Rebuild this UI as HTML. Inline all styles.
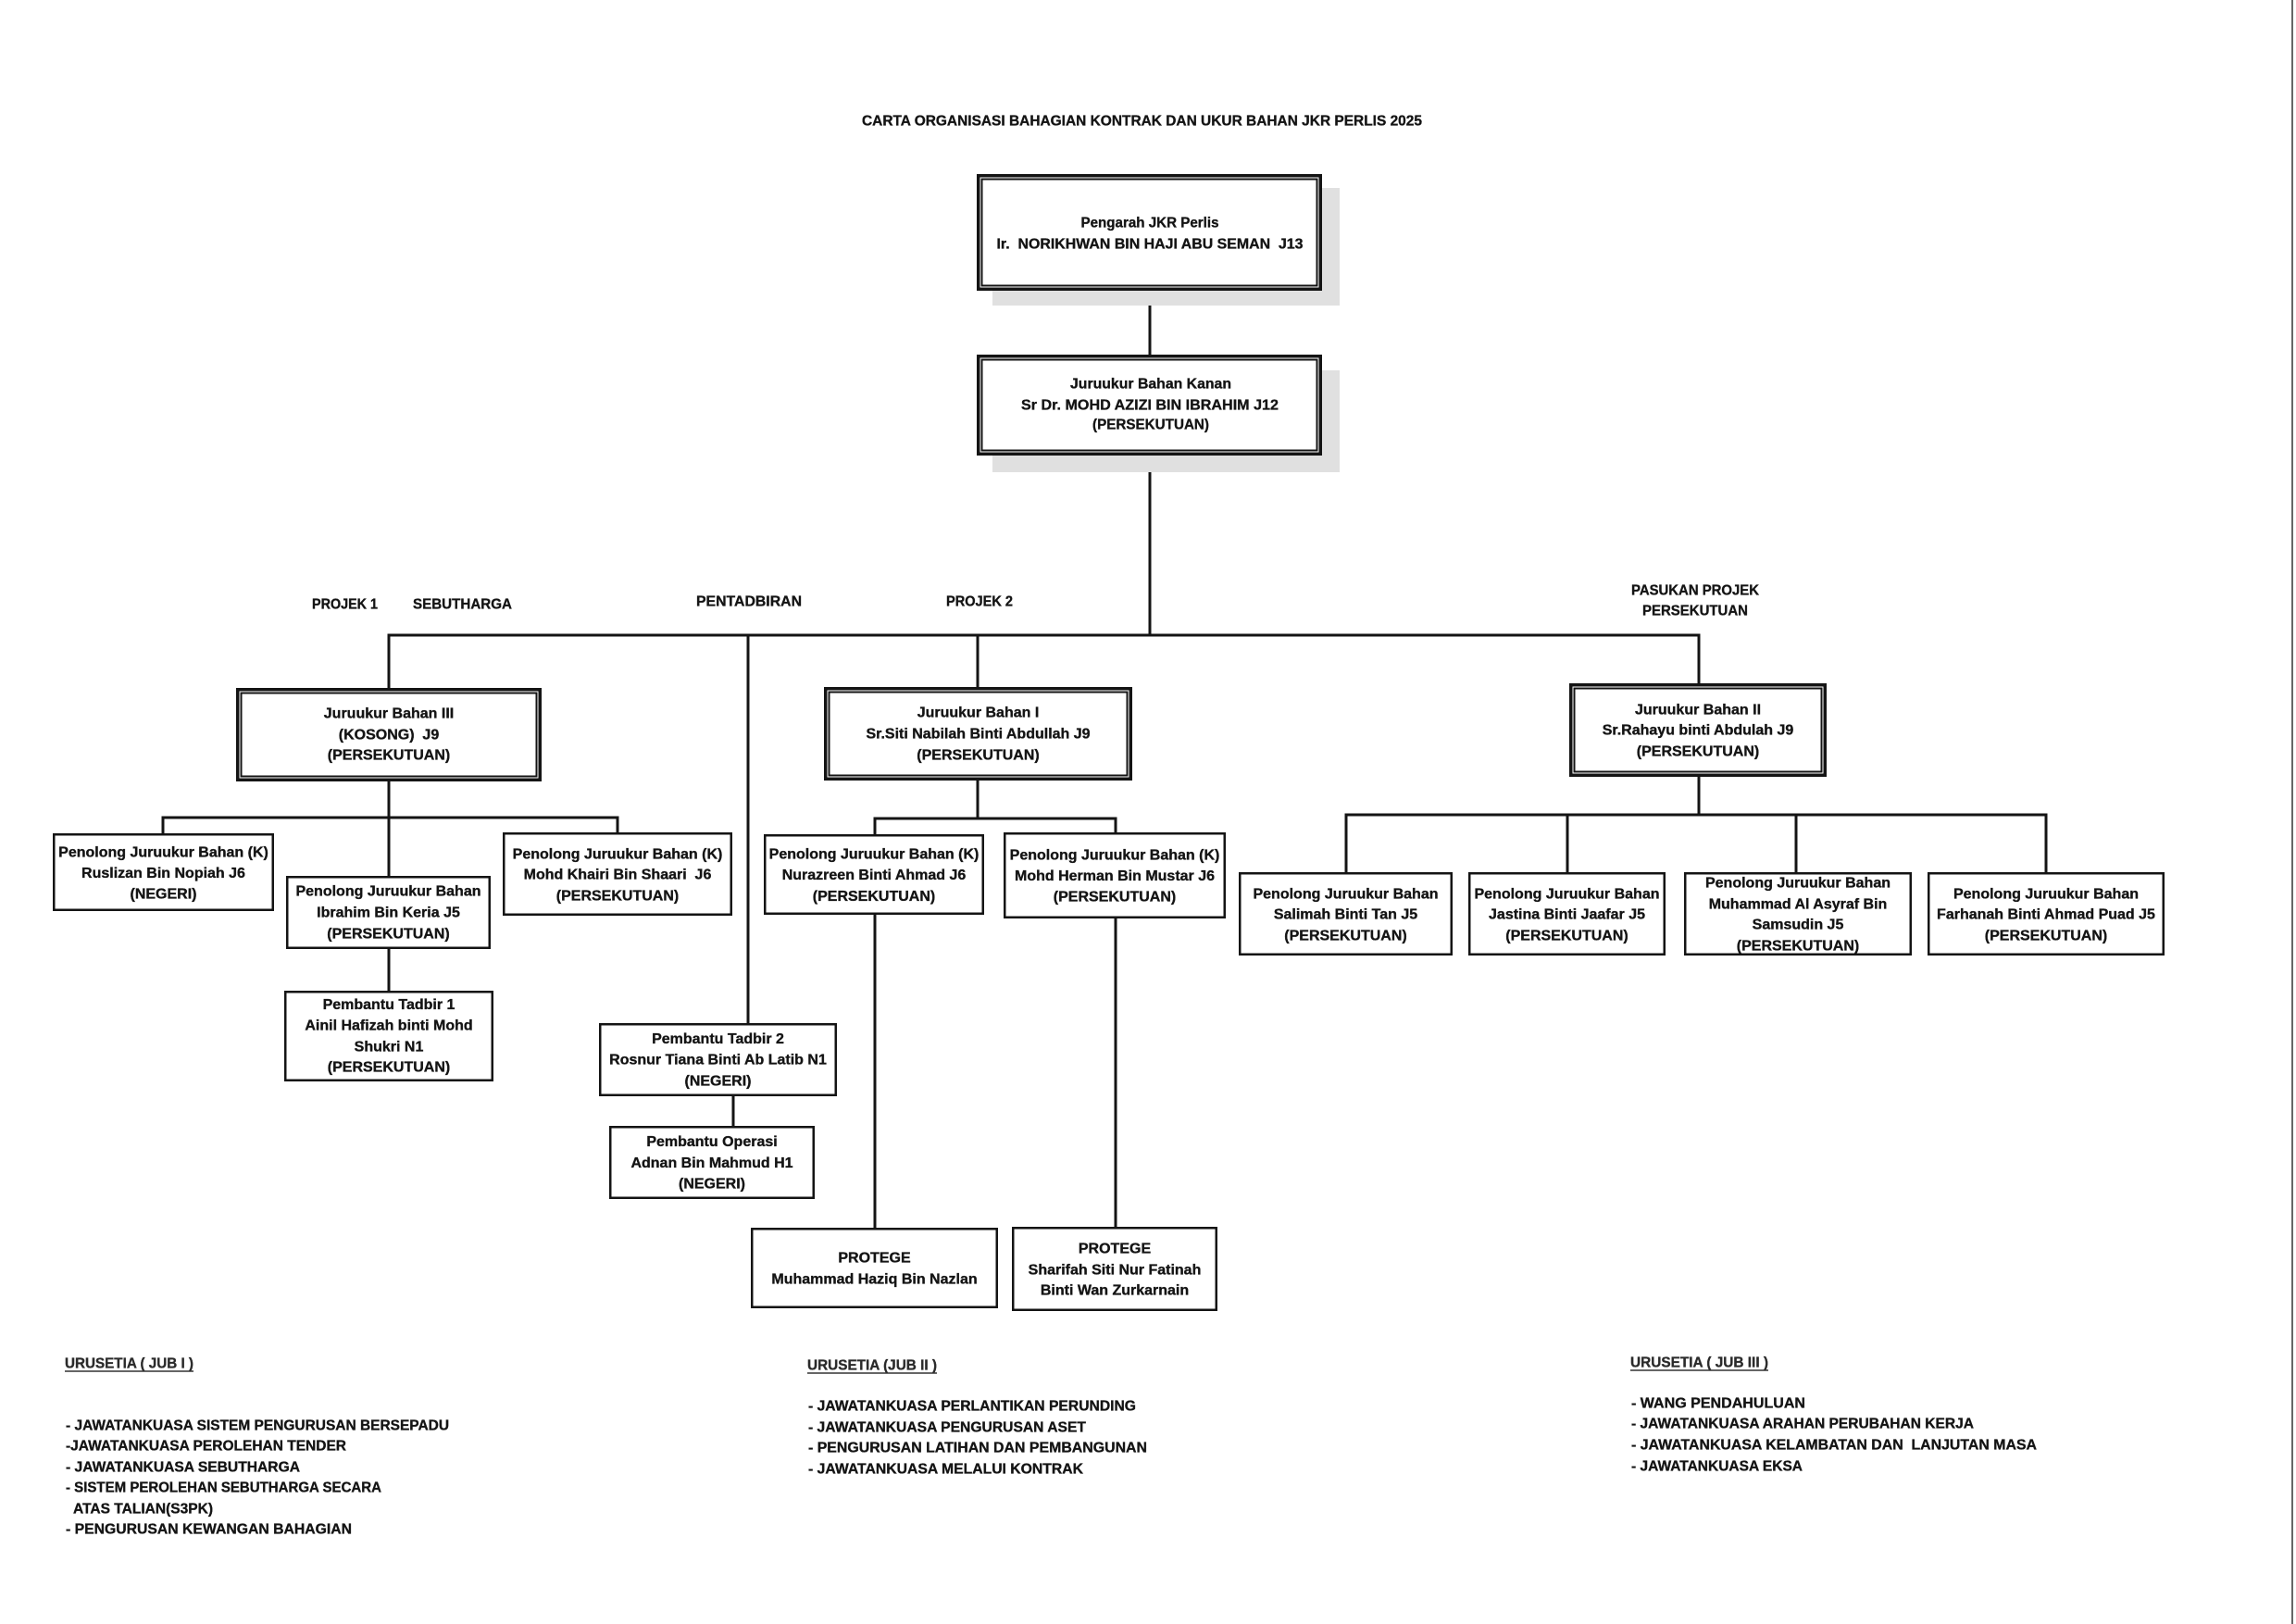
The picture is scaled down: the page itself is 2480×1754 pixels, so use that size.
<!DOCTYPE html>
<html>
<head>
<meta charset="utf-8">
<style>
  html,body{margin:0;padding:0;background:#fff;}
  svg{display:block;}
  text{font-family:"Liberation Sans",Arial,sans-serif;font-weight:bold;font-size:16px;fill:#141414;stroke:#141414;stroke-width:0.35px;white-space:pre;}
  .c{text-anchor:middle;}
  .l{text-anchor:start;}
  .hd{fill:#2a2a2a;stroke:#2a2a2a;}
</style>
</head>
<body>
<svg width="2480" height="1754" viewBox="0 0 2480 1754" xmlns="http://www.w3.org/2000/svg">
  <rect x="0" y="0" width="2480" height="1754" fill="#fff" stroke="none"/>
  <!-- right scan edge -->
  <line x1="2476" y1="0" x2="2476" y2="1754" stroke="#666" stroke-width="2"/>

  <!-- Title -->
  <text class="c" x="1233.5" y="135.5" font-size="15.5" textLength="605" lengthAdjust="spacingAndGlyphs">CARTA ORGANISASI BAHAGIAN KONTRAK DAN UKUR BAHAN JKR PERLIS 2025</text>

  <!-- connectors -->
  <g stroke="#141414" stroke-width="3" fill="none" stroke-linecap="square">
    <path d="M1242 314 V383"/>
    <path d="M1242 492 V686"/>
    <path d="M420 686 H1835"/>
    <path d="M420 686 V743"/>
    <path d="M808 686 V1105"/>
    <path d="M1056 686 V742"/>
    <path d="M1835 686 V738"/>
    <path d="M420 844 V946"/>
    <path d="M420 1025 V1070"/>
    <path d="M176 883 H667"/>
    <path d="M176 883 V900"/>
    <path d="M667 883 V899"/>
    <path d="M792 1184 V1216"/>
    <path d="M1056 843 V884"/>
    <path d="M945 884 H1205"/>
    <path d="M945 884 V901"/>
    <path d="M1205 884 V899"/>
    <path d="M945 988 V1326"/>
    <path d="M1205 992 V1325"/>
    <path d="M1835 839 V880"/>
    <path d="M1454 880 H2210"/>
    <path d="M1454 880 V942"/>
    <path d="M1693 880 V942"/>
    <path d="M1940 880 V942"/>
    <path d="M2210 880 V942"/>
  </g>

  <!-- Top box shadows -->
  <rect x="1072" y="203" width="375" height="127" fill="#e0e0e0"/>
  <rect x="1072" y="400" width="375" height="110" fill="#e0e0e0"/>

  <!-- Box A: Pengarah (double) -->
  <rect x="1056.75" y="189.75" width="369.5" height="122.5" fill="#fff" stroke="#141414" stroke-width="3.5"/>
  <rect x="1060.5" y="193.5" width="362" height="115" fill="none" stroke="#141414" stroke-width="2"/>
  <text class="c" x="1242" y="245.5" textLength="149" lengthAdjust="spacingAndGlyphs">Pengarah JKR Perlis</text>
  <text class="c" x="1242" y="268.5" textLength="331" lengthAdjust="spacingAndGlyphs">Ir.  NORIKHWAN BIN HAJI ABU SEMAN  J13</text>

  <!-- Box B: Juruukur Bahan Kanan (double) -->
  <rect x="1056.75" y="384.75" width="369.5" height="105.5" fill="#fff" stroke="#141414" stroke-width="3.5"/>
  <rect x="1060.5" y="388.5" width="362" height="98" fill="none" stroke="#141414" stroke-width="2"/>
  <text class="c" x="1243" y="419.5" textLength="174" lengthAdjust="spacingAndGlyphs">Juruukur Bahan Kanan</text>
  <text class="c" x="1242" y="442.5" textLength="278" lengthAdjust="spacingAndGlyphs">Sr Dr. MOHD AZIZI BIN IBRAHIM J12</text>
  <text class="c" x="1243" y="463.5" textLength="126" lengthAdjust="spacingAndGlyphs">(PERSEKUTUAN)</text>

  <!-- Section labels -->
  <text class="c" x="372.5" y="657.5" textLength="71" lengthAdjust="spacingAndGlyphs">PROJEK 1</text>
  <text class="c" x="499.5" y="657.5" textLength="107" lengthAdjust="spacingAndGlyphs">SEBUTHARGA</text>
  <text class="c" x="809" y="654.5" textLength="114" lengthAdjust="spacingAndGlyphs">PENTADBIRAN</text>
  <text class="c" x="1058" y="654.5" textLength="72" lengthAdjust="spacingAndGlyphs">PROJEK 2</text>
  <text class="c" x="1831" y="642.5" textLength="138" lengthAdjust="spacingAndGlyphs">PASUKAN PROJEK</text>
  <text class="c" x="1831" y="664.5" textLength="114" lengthAdjust="spacingAndGlyphs">PERSEKUTUAN</text>

  <!-- JB III (double) -->
  <rect x="256.75" y="744.75" width="326.5" height="97.5" fill="#fff" stroke="#141414" stroke-width="3.5"/>
  <rect x="260.5" y="748.5" width="319" height="90" fill="none" stroke="#141414" stroke-width="2"/>
  <text class="c" x="420" y="775.5">Juruukur Bahan III</text>
  <text class="c" x="420" y="798.5">(KOSONG)  J9</text>
  <text class="c" x="420" y="820.5">(PERSEKUTUAN)</text>

  <!-- Ruslizan -->
  <rect x="58.25" y="901.25" width="236.5" height="81.5" fill="#fff" stroke="#141414" stroke-width="2.5"/>
  <text class="c" x="176.5" y="925.5">Penolong Juruukur Bahan (K)</text>
  <text class="c" x="176.5" y="948">Ruslizan Bin Nopiah J6</text>
  <text class="c" x="176.5" y="970.5">(NEGERI)</text>

  <!-- Ibrahim -->
  <rect x="310.25" y="947.25" width="218.5" height="76.5" fill="#fff" stroke="#141414" stroke-width="2.5"/>
  <text class="c" x="419.5" y="967.5">Penolong Juruukur Bahan</text>
  <text class="c" x="419.5" y="990.5">Ibrahim Bin Keria J5</text>
  <text class="c" x="419.5" y="1013.5">(PERSEKUTUAN)</text>

  <!-- Khairi -->
  <rect x="544.25" y="900.25" width="245.5" height="87.5" fill="#fff" stroke="#141414" stroke-width="2.5"/>
  <text class="c" x="667" y="927.5">Penolong Juruukur Bahan (K)</text>
  <text class="c" x="667" y="949.5">Mohd Khairi Bin Shaari  J6</text>
  <text class="c" x="667" y="972.5">(PERSEKUTUAN)</text>

  <!-- Pembantu Tadbir 1 -->
  <rect x="308.25" y="1071.25" width="223.5" height="95.5" fill="#fff" stroke="#141414" stroke-width="2.5"/>
  <text class="c" x="420" y="1090">Pembantu Tadbir 1</text>
  <text class="c" x="420" y="1112.5">Ainil Hafizah binti Mohd</text>
  <text class="c" x="420" y="1135.5">Shukri N1</text>
  <text class="c" x="420" y="1157.5">(PERSEKUTUAN)</text>

  <!-- Pembantu Tadbir 2 -->
  <rect x="648.25" y="1106.25" width="254.5" height="76.5" fill="#fff" stroke="#141414" stroke-width="2.5"/>
  <text class="c" x="775.5" y="1127">Pembantu Tadbir 2</text>
  <text class="c" x="775.5" y="1149.5">Rosnur Tiana Binti Ab Latib N1</text>
  <text class="c" x="775.5" y="1172.5">(NEGERI)</text>

  <!-- Pembantu Operasi -->
  <rect x="659.25" y="1217.25" width="219.5" height="76.5" fill="#fff" stroke="#141414" stroke-width="2.5"/>
  <text class="c" x="769" y="1238">Pembantu Operasi</text>
  <text class="c" x="769" y="1261">Adnan Bin Mahmud H1</text>
  <text class="c" x="769" y="1283.5">(NEGERI)</text>

  <!-- JB I (double) -->
  <rect x="891.75" y="743.75" width="329.5" height="97.5" fill="#fff" stroke="#141414" stroke-width="3.5"/>
  <rect x="895.5" y="747.5" width="322" height="90" fill="none" stroke="#141414" stroke-width="2"/>
  <text class="c" x="1056.5" y="774.5">Juruukur Bahan I</text>
  <text class="c" x="1056.5" y="797.5">Sr.Siti Nabilah Binti Abdullah J9</text>
  <text class="c" x="1056.5" y="820.5">(PERSEKUTUAN)</text>

  <!-- Nurazreen -->
  <rect x="826.25" y="902.25" width="235.5" height="84.5" fill="#fff" stroke="#141414" stroke-width="2.5"/>
  <text class="c" x="944" y="927.5">Penolong Juruukur Bahan (K)</text>
  <text class="c" x="944" y="950">Nurazreen Binti Ahmad J6</text>
  <text class="c" x="944" y="973">(PERSEKUTUAN)</text>

  <!-- Herman -->
  <rect x="1085.25" y="900.25" width="237.5" height="90.5" fill="#fff" stroke="#141414" stroke-width="2.5"/>
  <text class="c" x="1204" y="928.5">Penolong Juruukur Bahan (K)</text>
  <text class="c" x="1204" y="951">Mohd Herman Bin Mustar J6</text>
  <text class="c" x="1204" y="973.5">(PERSEKUTUAN)</text>

  <!-- Protege 1 -->
  <rect x="812.25" y="1327.25" width="264.5" height="84.5" fill="#fff" stroke="#141414" stroke-width="2.5"/>
  <text class="c" x="944.5" y="1363.5">PROTEGE</text>
  <text class="c" x="944.5" y="1386.5">Muhammad Haziq Bin Nazlan</text>

  <!-- Protege 2 -->
  <rect x="1094.25" y="1326.25" width="219.5" height="88.5" fill="#fff" stroke="#141414" stroke-width="2.5"/>
  <text class="c" x="1204" y="1353.5">PROTEGE</text>
  <text class="c" x="1204" y="1376.5">Sharifah Siti Nur Fatinah</text>
  <text class="c" x="1204" y="1398.5">Binti Wan Zurkarnain</text>

  <!-- JB II (double) -->
  <rect x="1696.75" y="739.75" width="274.5" height="97.5" fill="#fff" stroke="#141414" stroke-width="3.5"/>
  <rect x="1700.5" y="743.5" width="267" height="90" fill="none" stroke="#141414" stroke-width="2"/>
  <text class="c" x="1834" y="771.5">Juruukur Bahan II</text>
  <text class="c" x="1834" y="793.5">Sr.Rahayu binti Abdulah J9</text>
  <text class="c" x="1834" y="816.5">(PERSEKUTUAN)</text>

  <!-- Salimah -->
  <rect x="1339.25" y="943.25" width="228.5" height="87.5" fill="#fff" stroke="#141414" stroke-width="2.5"/>
  <text class="c" x="1453.5" y="970.5">Penolong Juruukur Bahan</text>
  <text class="c" x="1453.5" y="992.5">Salimah Binti Tan J5</text>
  <text class="c" x="1453.5" y="1015.5">(PERSEKUTUAN)</text>

  <!-- Jastina -->
  <rect x="1587.25" y="943.25" width="210.5" height="87.5" fill="#fff" stroke="#141414" stroke-width="2.5"/>
  <text class="c" x="1692.5" y="970.5">Penolong Juruukur Bahan</text>
  <text class="c" x="1692.5" y="992.5">Jastina Binti Jaafar J5</text>
  <text class="c" x="1692.5" y="1015.5">(PERSEKUTUAN)</text>

  <!-- Asyraf -->
  <rect x="1820.25" y="943.25" width="243.5" height="87.5" fill="#fff" stroke="#141414" stroke-width="2.5"/>
  <text class="c" x="1942" y="958.5">Penolong Juruukur Bahan</text>
  <text class="c" x="1942" y="981.5">Muhammad Al Asyraf Bin</text>
  <text class="c" x="1942" y="1003.5">Samsudin J5</text>
  <text class="c" x="1942" y="1026.5">(PERSEKUTUAN)</text>

  <!-- Farhanah -->
  <rect x="2083.25" y="943.25" width="253.5" height="87.5" fill="#fff" stroke="#141414" stroke-width="2.5"/>
  <text class="c" x="2210" y="970.5">Penolong Juruukur Bahan</text>
  <text class="c" x="2210" y="992.5">Farhanah Binti Ahmad Puad J5</text>
  <text class="c" x="2210" y="1015.5">(PERSEKUTUAN)</text>

  <!-- URUSETIA JUB I -->
  <text class="l hd" x="70" y="1477.5" textLength="139" lengthAdjust="spacingAndGlyphs">URUSETIA ( JUB I )</text>
  <line x1="70" y1="1481" x2="209" y2="1481" stroke="#333" stroke-width="1.5"/>
  <text class="l" x="71" y="1544.5" textLength="414" lengthAdjust="spacingAndGlyphs">- JAWATANKUASA SISTEM PENGURUSAN BERSEPADU</text>
  <text class="l" x="71" y="1566.5" textLength="303" lengthAdjust="spacingAndGlyphs">-JAWATANKUASA PEROLEHAN TENDER</text>
  <text class="l" x="71" y="1589.5" textLength="253" lengthAdjust="spacingAndGlyphs">- JAWATANKUASA SEBUTHARGA</text>
  <text class="l" x="71" y="1611.5" textLength="341" lengthAdjust="spacingAndGlyphs">- SISTEM PEROLEHAN SEBUTHARGA SECARA</text>
  <text class="l" x="79" y="1634.5" textLength="151" lengthAdjust="spacingAndGlyphs">ATAS TALIAN(S3PK)</text>
  <text class="l" x="71" y="1656.5" textLength="309" lengthAdjust="spacingAndGlyphs">- PENGURUSAN KEWANGAN BAHAGIAN</text>

  <!-- URUSETIA JUB II -->
  <text class="l hd" x="872" y="1479.5" textLength="140" lengthAdjust="spacingAndGlyphs">URUSETIA (JUB II )</text>
  <line x1="872" y1="1483" x2="1012" y2="1483" stroke="#333" stroke-width="1.5"/>
  <text class="l" x="873" y="1523.5" textLength="354" lengthAdjust="spacingAndGlyphs">- JAWATANKUASA PERLANTIKAN PERUNDING</text>
  <text class="l" x="873" y="1546.5" textLength="300" lengthAdjust="spacingAndGlyphs">- JAWATANKUASA PENGURUSAN ASET</text>
  <text class="l" x="873" y="1568.5" textLength="366" lengthAdjust="spacingAndGlyphs">- PENGURUSAN LATIHAN DAN PEMBANGUNAN</text>
  <text class="l" x="873" y="1591.5" textLength="297" lengthAdjust="spacingAndGlyphs">- JAWATANKUASA MELALUI KONTRAK</text>

  <!-- URUSETIA JUB III -->
  <text class="l hd" x="1761" y="1476.5" textLength="149" lengthAdjust="spacingAndGlyphs">URUSETIA ( JUB III )</text>
  <line x1="1761" y1="1480" x2="1910" y2="1480" stroke="#333" stroke-width="1.5"/>
  <text class="l" x="1762" y="1520.5" textLength="188" lengthAdjust="spacingAndGlyphs">- WANG PENDAHULUAN</text>
  <text class="l" x="1762" y="1542.5" textLength="370" lengthAdjust="spacingAndGlyphs">- JAWATANKUASA ARAHAN PERUBAHAN KERJA</text>
  <text class="l" x="1762" y="1565.5" textLength="438" lengthAdjust="spacingAndGlyphs">- JAWATANKUASA KELAMBATAN DAN  LANJUTAN MASA</text>
  <text class="l" x="1762" y="1588.5" textLength="185" lengthAdjust="spacingAndGlyphs">- JAWATANKUASA EKSA</text>
</svg>
</body>
</html>
